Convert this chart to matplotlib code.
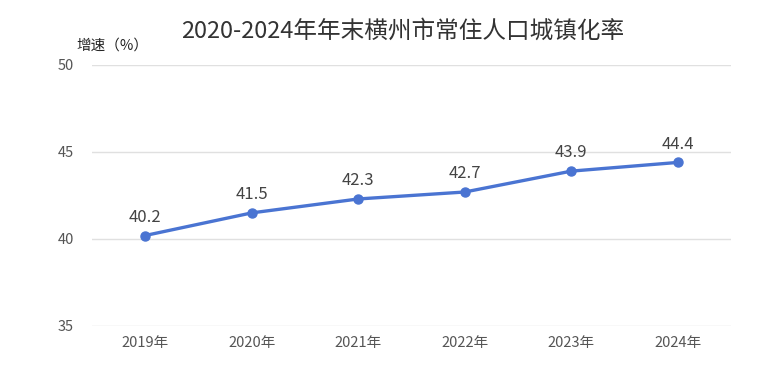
import matplotlib.pyplot as plt

plt.rcParams["font.family"] = ["Noto Sans CJK SC", "DejaVu Sans"]

years = ["2019年", "2020年", "2021年", "2022年", "2023年", "2024年"]
rates = [40.2, 41.5, 42.3, 42.7, 43.9, 44.4]
y_ticks = [35, 40, 45, 50]

fig = plt.figure(figsize=(7.57, 3.72), dpi=100)
ax = fig.add_axes([0.1215, 0.1237, 0.8442, 0.7016])

x = list(range(len(years)))
ax.plot(x, rates, color="#4a74d2", linewidth=2.4, marker="o", markersize=6.5, zorder=3)
for xi, v in zip(x, rates):
    ax.annotate(f"{v}", xy=(xi, v), xytext=(0, 7), textcoords="offset points",
                ha="center", va="bottom", fontsize=12, color="#444444")

ax.set_xlim(-0.5, len(years) - 0.5)
ax.set_ylim(35, 50)
ax.set_yticks(y_ticks)
ax.set_xticks(x)
ax.set_xticklabels(years)
ax.tick_params(axis="both", length=0, labelsize=10.5, colors="#555555")
ax.tick_params(axis="x", pad=7)
ax.tick_params(axis="y", pad=13)
ax.grid(axis="y", color="#e0e0e0", linewidth=1)
ax.set_axisbelow(True)
for s in ax.spines.values():
    s.set_visible(False)

fig.text(0.532, 0.915, "2020-2024年年末横州市常住人口城镇化率", ha="center", va="center",
         fontsize=17, color="#333333")
fig.text(0.148, 0.877, "增速（%）", ha="center", va="center", fontsize=10.5, color="#222222")

fig.savefig("out.png", dpi=100)
